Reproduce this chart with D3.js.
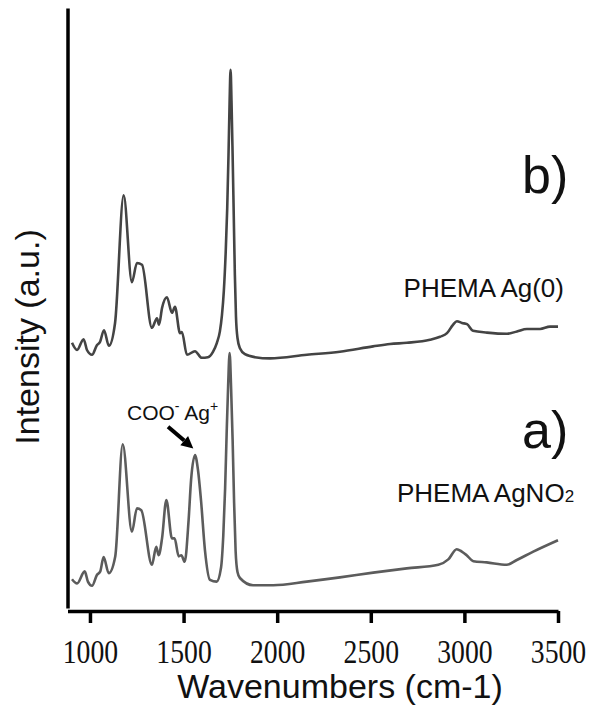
<!DOCTYPE html>
<html>
<head>
<meta charset="utf-8">
<script src="https://cdn.jsdelivr.net/npm/d3@7"></script>
<style>
  body { margin: 0; background: #fff; }
  svg { display: block; }
</style>
</head>
<body>
<svg id="chart" width="592" height="710"></svg>
<script>
// x-axis tick values (cm-1)
const xTicks = [1000, 1500, 2000, 2500, 3000, 3500];

// b) PHEMA Ag(0) spectrum
const ag0Wavenumber = [904, 931, 966, 984, 1011, 1037, 1053, 1075, 1101, 1134, 1180, 1224, 1251, 1278,
  1331, 1358, 1369, 1385, 1411, 1438, 1454, 1481, 1491, 1518, 1561, 1597, 1630, 1657, 1678, 1694,
  1705, 1715, 1725, 1733, 1740, 1746, 1751, 1756, 1762, 1768, 1774, 1780, 1788, 1801, 1828, 1881,
  1962, 2159, 2335, 2512, 2603, 2693, 2816, 2870, 2907, 2939, 2960, 2987, 3014, 3046, 3121, 3228,
  3281, 3334, 3404, 3457, 3500];
const ag0Intensity = [44.7, 43.5, 45.3, 43.5, 42.7, 44.3, 44.8, 46.8, 44.2, 48.0, 69.3, 54.8, 58.0, 57.7,
  47.2, 48.8, 47.7, 50.5, 52.3, 49.7, 50.7, 46.3, 46.5, 42.7, 43.3, 42.2, 42.3, 43.2, 44.7, 46.6,
  49.3, 53.3, 59.8, 67.0, 76.0, 85.0, 90.2, 85.0, 76.0, 66.0, 56.0, 49.0, 45.5, 43.8, 42.8, 42.3,
  42.1, 42.7, 43.2, 44.1, 44.5, 44.7, 45.2, 45.7, 46.3, 47.7, 48.3, 48.0, 47.8, 46.7, 46.4, 46.2,
  46.6, 47.0, 47.0, 47.4, 47.4];

// a) PHEMA AgNO2 spectrum
const agNO2Wavenumber = [904, 931, 972, 989, 1011, 1037, 1055, 1073, 1100, 1135, 1175, 1224, 1251, 1274,
  1331, 1354, 1367, 1385, 1408, 1438, 1452, 1474, 1488, 1506, 1527, 1540, 1561, 1577, 1593, 1614,
  1641, 1677, 1700, 1712, 1722, 1730, 1738, 1746, 1754, 1762, 1770, 1778, 1788, 1801, 1871, 1979,
  2158, 2335, 2513, 2692, 2861, 2914, 2959, 2986, 3012, 3048, 3119, 3226, 3280, 3368, 3500];
const agNO2Intensity = [5.3, 4.6, 6.6, 4.9, 4.2, 6.0, 6.6, 9.0, 6.3, 9.1, 27.8, 13.2, 17.1, 16.8,
  7.7, 10.7, 9.3, 12.1, 18.5, 12.1, 12.1, 9.1, 9.3, 8.2, 15.2, 21.8, 26.0, 23.5, 18.5, 10.2,
  5.2, 4.9, 7.2, 12.5, 20.5, 29.5, 37.5, 43.0, 37.0, 28.5, 18.0, 10.0, 6.5, 5.5, 4.3, 4.3,
  4.9, 5.6, 6.4, 7.1, 7.7, 8.6, 10.3, 9.9, 9.3, 8.3, 8.1, 7.7, 8.5, 9.9, 11.8];

const svg = d3.select("#chart");

const x = d3.scaleLinear().domain([880, 3500]).range([67.5, 558]);
const y = d3.scaleLinear().domain([0, 100]).range([611, 11]);

const line = d3.line()
  .x(d => x(d[0]))
  .y(d => y(d[1]))
  .curve(d3.curveMonotoneX);

// spectra
svg.append("path")
  .datum(d3.zip(ag0Wavenumber, ag0Intensity))
  .attr("d", line)
  .attr("fill", "none")
  .attr("stroke", "#444")
  .attr("stroke-width", 2.6)
  .attr("stroke-linejoin", "round");

svg.append("path")
  .datum(d3.zip(agNO2Wavenumber, agNO2Intensity))
  .attr("d", line)
  .attr("fill", "none")
  .attr("stroke", "#5c5c5c")
  .attr("stroke-width", 2.6)
  .attr("stroke-linejoin", "round");

// y axis: bare line
const yAxis = svg.append("g")
  .attr("transform", "translate(67.5,-3)")
  .call(d3.axisLeft(y).tickValues([]).tickSizeOuter(0));
yAxis.select(".domain").attr("stroke", "#000").attr("stroke-width", 3.5);

// x axis
const xAxis = svg.append("g")
  .attr("transform", "translate(0,611)")
  .call(d3.axisBottom(x).tickValues(xTicks).tickFormat(d3.format("d"))
    .tickSize(12).tickSizeOuter(0));
xAxis.select(".domain").attr("stroke", "#000").attr("stroke-width", 3.5);
xAxis.selectAll(".tick line").attr("stroke", "#000").attr("stroke-width", 3.5);
xAxis.selectAll(".tick text")
  .attr("y", 52)
  .attr("dy", null)
  .attr("fill", "#111")
  .attr("font-family", "'Liberation Serif', 'Times New Roman', serif")
  .attr("font-size", 33)
  .attr("transform", "scale(0.84,1)");

// axis titles
svg.append("text")
  .attr("x", 340)
  .attr("y", 698)
  .attr("text-anchor", "middle")
  .attr("font-family", "'Liberation Sans', Arial, sans-serif")
  .attr("font-size", 34)
  .attr("fill", "#111")
  .text("Wavenumbers (cm-1)");

svg.append("text")
  .attr("transform", "translate(39,337) rotate(-90)")
  .attr("text-anchor", "middle")
  .attr("font-family", "'Liberation Sans', Arial, sans-serif")
  .attr("font-size", 34)
  .attr("fill", "#111")
  .text("Intensity (a.u.)");

// panel letters
const sans = "'Liberation Sans', Arial, sans-serif";
svg.append("text").attr("x", 522).attr("y", 193)
  .attr("font-family", sans).attr("font-size", 52).attr("fill", "#111").text("b)");
svg.append("text").attr("x", 522).attr("y", 448)
  .attr("font-family", sans).attr("font-size", 52).attr("fill", "#111").text("a)");

// sample labels
svg.append("text").attr("x", 564).attr("y", 297).attr("text-anchor", "end")
  .attr("font-family", sans).attr("font-size", 26).attr("fill", "#111")
  .text("PHEMA Ag(0)");

const lblA = svg.append("text").attr("x", 397).attr("y", 502)
  .attr("font-family", sans).attr("font-size", 26).attr("fill", "#111");
lblA.append("tspan").text("PHEMA AgNO");
lblA.append("tspan").attr("font-size", 17).text("2");

// carboxylate annotation
const ann = svg.append("text").attr("x", 127).attr("y", 420)
  .attr("font-family", sans).attr("font-size", 21).attr("fill", "#111");
ann.append("tspan").text("COO");
ann.append("tspan").attr("font-size", 14).attr("dy", -9).text("-");
ann.append("tspan").attr("dy", 9).text(" Ag");
ann.append("tspan").attr("font-size", 14).attr("dy", -9).text("+");

// arrow pointing at the carboxylate band
const tail = [x(1417), y(30.7)];
const tip = [x(1552), y(27.1)];
const ang = Math.atan2(tip[1] - tail[1], tip[0] - tail[0]);
const headLen = 12, headHalf = 6;
const base = [tip[0] - headLen * Math.cos(ang), tip[1] - headLen * Math.sin(ang)];
svg.append("line")
  .attr("x1", tail[0]).attr("y1", tail[1])
  .attr("x2", base[0]).attr("y2", base[1])
  .attr("stroke", "#000").attr("stroke-width", 4);
svg.append("path")
  .attr("d", d3.line()([
    tip,
    [base[0] + headHalf * Math.sin(ang), base[1] - headHalf * Math.cos(ang)],
    [base[0] - headHalf * Math.sin(ang), base[1] + headHalf * Math.cos(ang)]
  ]) + "Z")
  .attr("fill", "#000");
</script>
</body>
</html>
